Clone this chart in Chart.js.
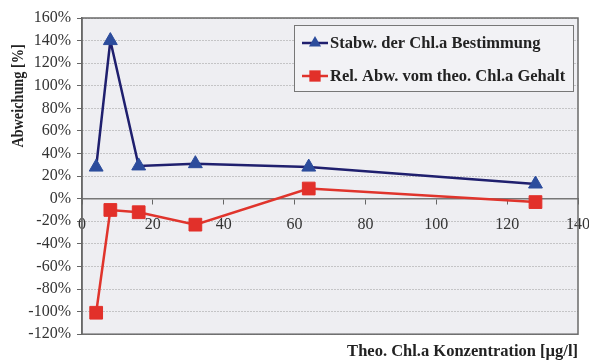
<!DOCTYPE html>
<html>
<head>
<meta charset="utf-8">
<script src="https://cdn.jsdelivr.net/npm/chart.js@4/dist/chart.umd.min.js"></script>
<style>
    html, body { margin: 0; padding: 0; background: #fff; }
    #wrap { width: 589px; height: 363px; }
</style>
</head>
<body>
<div id="wrap"><canvas id="chlChart" width="589" height="363"></canvas></div>
<script>
// ========== Daten ==========
const konzentration = [4, 8, 16, 32, 64, 128];      // µg/l
const stabw = [28, 140, 29, 31, 28, 13];            // %
const relAbw = [-101, -10, -12, -23, 9, -3];        // %

const seriesNames = ['Stabw. der Chl.a Bestimmung', 'Rel. Abw. vom theo. Chl.a Gehalt'];
const xTitle = 'Theo. Chl.a Konzentration [µg/l]';
const yTitle = 'Abweichung [%]';

const SERIF = '"Liberation Serif", "DejaVu Serif", serif';

const BLUE_LINE = '#1f1f6e';
const BLUE_MARK = '#2c4c9c';
const RED_LINE = '#e0342c';
const RED_MARK = '#e2302a';

function toPoints(ys) {
    return konzentration.map((x, i) => ({ x: x, y: ys[i] }));
}

// Marker zeichnen (für die Legende)
function drawMarker(ctx, style, x, y, r) {
    ctx.beginPath();
    if (style === 'triangle') {
        ctx.moveTo(x, y - r);
        ctx.lineTo(x + r * 0.866, y + r * 0.5);
        ctx.lineTo(x - r * 0.866, y + r * 0.5);
        ctx.closePath();
    } else {
        const s = r * Math.SQRT1_2;
        ctx.rect(x - s, y - s, 2 * s, 2 * s);
    }
    ctx.fill();
}

// ========== Hintergrund, Rahmen, Legende, Y-Titel ==========
const plotFrame = {
    id: 'plotFrame',
    beforeDraw(chart) {
        const { ctx, chartArea: a } = chart;
        ctx.save();
        ctx.fillStyle = '#eeeef2';
        ctx.fillRect(a.left, a.top, a.right - a.left, a.bottom - a.top);
        ctx.restore();
    },
    afterDraw(chart) {
        const { ctx, chartArea: a } = chart;
        ctx.save();

        // Rahmen
        ctx.strokeStyle = '#6a6a6a';
        ctx.lineWidth = 1.5;
        ctx.strokeRect(a.left, a.top, a.right - a.left, a.bottom - a.top);

        // Y-Achsentitel (etwas gestaucht)
        ctx.fillStyle = '#222';
        ctx.font = 'bold 16px ' + SERIF;
        ctx.textAlign = 'center';
        ctx.textBaseline = 'middle';
        ctx.translate(19, 96);
        ctx.rotate(-Math.PI / 2);
        ctx.scale(0.89, 1);
        ctx.fillText(yTitle, 0, 0);
        ctx.setTransform(1, 0, 0, 1, 0, 0);

        // Legende
        const lx = 294, ly = 25, lw = 279, lh = 66;
        ctx.fillStyle = '#f2f2f5';
        ctx.fillRect(lx, ly, lw, lh);
        ctx.strokeStyle = '#777';
        ctx.lineWidth = 1;
        ctx.strokeRect(lx + 0.5, ly + 0.5, lw, lh);

        const rows = [
            { y: 43, line: BLUE_LINE, mark: BLUE_MARK, style: 'triangle', r: 7 },
            { y: 76, line: RED_LINE, mark: RED_MARK, style: 'rect', r: 8 }
        ];
        ctx.font = 'bold 16.5px ' + SERIF;
        ctx.textAlign = 'left';
        rows.forEach((row, i) => {
            ctx.strokeStyle = row.line;
            ctx.lineWidth = 2.5;
            ctx.beginPath();
            ctx.moveTo(302, row.y);
            ctx.lineTo(328, row.y);
            ctx.stroke();
            ctx.fillStyle = row.mark;
            drawMarker(ctx, row.style, 315, row.y, row.r);
            ctx.fillStyle = '#222';
            ctx.fillText(seriesNames[i], 330, row.y + 1);
        });

        ctx.restore();
    }
};

// ========== Diagramm ==========
new Chart(document.getElementById('chlChart'), {
    type: 'scatter',
    data: {
        datasets: [
            {
                label: seriesNames[0],
                data: toPoints(stabw),
                showLine: true,
                borderColor: BLUE_LINE,
                borderWidth: 2.5,
                pointStyle: 'triangle',
                pointRadius: 8,
                pointBackgroundColor: BLUE_MARK,
                pointBorderColor: BLUE_MARK,
                pointBorderWidth: 1
            },
            {
                label: seriesNames[1],
                data: toPoints(relAbw),
                showLine: true,
                borderColor: RED_LINE,
                borderWidth: 2.5,
                pointStyle: 'rect',
                pointRadius: 9,
                pointBackgroundColor: RED_MARK,
                pointBorderColor: RED_MARK,
                pointBorderWidth: 1
            }
        ]
    },
    options: {
        responsive: false,
        animation: false,
        devicePixelRatio: 1,
        layout: { padding: { left: 0, top: 18, right: 11, bottom: 1 } },
        scales: {
            x: {
                type: 'linear',
                position: { y: 0 },
                min: 0,
                max: 140,
                // Achse liegt bei 0 %, Beschriftung braucht keinen Randabstand
                afterFit(scale) {
                    scale.paddingLeft = 0;
                    scale.paddingRight = 0;
                },
                ticks: {
                    stepSize: 20,
                    color: '#333',
                    padding: 12,
                    font: { family: SERIF, size: 16 }
                },
                grid: {
                    drawOnChartArea: false,
                    drawTicks: true,
                    tickLength: 5,
                    tickColor: '#666'
                },
                border: { color: '#777', width: 1.5 }
            },
            y: {
                min: -120,
                max: 160,
                afterFit(scale) { scale.width = 82; },
                ticks: {
                    stepSize: 20,
                    color: '#333',
                    padding: 6,
                    font: { family: SERIF, size: 16 },
                    callback: v => v + '%'
                },
                grid: {
                    color: '#9a9a9a',
                    tickColor: '#666',
                    tickLength: 5
                },
                border: { color: '#666', width: 1.5, dash: [1, 2] }
            }
        },
        plugins: {
            legend: { display: false },
            tooltip: { enabled: false },
            title: {
                display: true,
                text: xTitle,
                position: 'bottom',
                align: 'end',
                color: '#222',
                padding: { top: 8, bottom: 0 },
                font: { family: SERIF, size: 16.5, weight: 'bold' }
            }
        }
    },
    plugins: [plotFrame]
});
</script>
</body>
</html>
